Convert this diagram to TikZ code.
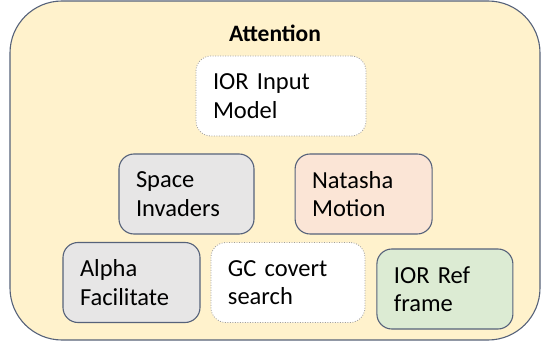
\documentclass[tikz,border=0pt]{standalone}
\usepackage{fontspec}
\setmainfont{Carlito}
\usepackage{tikz}
\usetikzlibrary{positioning}
\usepackage{xcolor}

\definecolor{edgeblue}{HTML}{56627A}
\definecolor{panelyellow}{HTML}{FFF2CC}
\definecolor{boxgrey}{HTML}{E7E6E6}
\definecolor{boxorange}{HTML}{FBE5D6}
\definecolor{boxgreen}{HTML}{DCEBD3}

\tikzset{
  modbox/.style={draw=edgeblue, line width=1.1pt, rounded corners=15pt,
    align=left, inner xsep=17pt, text width=103pt, minimum height=80pt,
    font=\fontsize{24.5}{28.5}\selectfont},
  greybox/.style={modbox, fill=boxgrey},
  orangebox/.style={modbox, fill=boxorange},
  greenbox/.style={modbox, fill=boxgreen},
  openbox/.style={modbox, draw=gray!75, fill=white, line width=0.8pt,
    dash pattern=on 0.9pt off 1.6pt},
}

\begin{document}
\begin{tikzpicture}[x=1pt,y=-1pt]
\useasboundingbox (0,0) rectangle (541,350);
\node[draw=edgeblue, fill=panelyellow, line width=1.1pt, rounded corners=52pt,
  minimum width=530pt, minimum height=339pt] (attn) at (275,170.5) {};
\node[font=\fontsize{23.5}{27}\selectfont\bfseries] (title) at (275,33) {Attention};
\node[openbox, text width=136pt] (inmodel) at (281,96) {IOR Input\\Model};
\node[greybox, text width=101pt] (space) at (186.5,194) {Space\\Invaders};
\node[orangebox, right=40pt of space] (natasha) {Natasha\\Motion};
\node[greybox] (alpha) at (131.5,282.5) {Alpha\\Facilitate};
\node[openbox, text width=120pt, right=10pt of alpha] (gc) {GC covert\\search};
\node[greenbox, text width=102pt, right=11pt of gc, yshift=-6.5pt] (iorref) {IOR Ref\\frame};
\end{tikzpicture}
\end{document}
